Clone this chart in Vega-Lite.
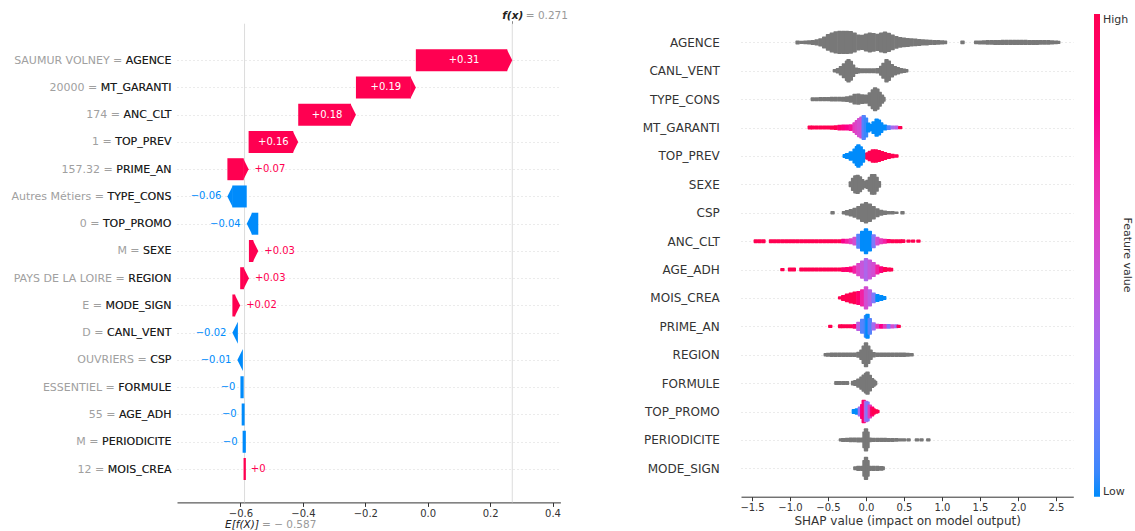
{
  "$schema": "https://vega.github.io/schema/vega-lite/v6.json",
  "padding": {"left": 10, "top": 10, "right": 0, "bottom": 0},
  "config": {
    "font": "DejaVu Sans",
    "view": {"stroke": null},
    "axis": {"labelFont": "DejaVu Sans", "titleFont": "DejaVu Sans"},
    "legend": {"labelFont": "DejaVu Sans", "titleFont": "DejaVu Sans"}
  },
  "datasets": {
    "wf": [
      {"f": "AGENCE", "label": "SAUMUR VOLNEY = AGENCE", "start": -0.038, "end": 0.271, "t": "+0.31"},
      {"f": "MT_GARANTI", "label": "20000 = MT_GARANTI", "start": -0.230, "end": -0.038, "t": "+0.19"},
      {"f": "ANC_CLT", "label": "174 = ANC_CLT", "start": -0.415, "end": -0.230, "t": "+0.18"},
      {"f": "TOP_PREV", "label": "1 = TOP_PREV", "start": -0.574, "end": -0.415, "t": "+0.16"},
      {"f": "PRIME_AN", "label": "157.32 = PRIME_AN", "start": -0.642, "end": -0.574, "t": "+0.07"},
      {"f": "TYPE_CONS", "label": "Autres Métiers = TYPE_CONS", "start": -0.580, "end": -0.642, "t": "−0.06"},
      {"f": "TOP_PROMO", "label": "0 = TOP_PROMO", "start": -0.543, "end": -0.580, "t": "−0.04"},
      {"f": "SEXE", "label": "M = SEXE", "start": -0.573, "end": -0.543, "t": "+0.03"},
      {"f": "REGION", "label": "PAYS DE LA LOIRE = REGION", "start": -0.601, "end": -0.573, "t": "+0.03"},
      {"f": "MODE_SIGN", "label": "E = MODE_SIGN", "start": -0.626, "end": -0.601, "t": "+0.02"},
      {"f": "CANL_VENT", "label": "D = CANL_VENT", "start": -0.610, "end": -0.626, "t": "−0.02"},
      {"f": "CSP", "label": "OUVRIERS = CSP", "start": -0.597, "end": -0.610, "t": "−0.01"},
      {"f": "FORMULE", "label": "ESSENTIEL = FORMULE", "start": -0.593, "end": -0.597, "t": "−0"},
      {"f": "AGE_ADH", "label": "55 = AGE_ADH", "start": -0.590, "end": -0.593, "t": "−0"},
      {"f": "PERIODICITE", "label": "M = PERIODICITE", "start": -0.586, "end": -0.590, "t": "−0"},
      {"f": "MOIS_CREA", "label": "12 = MOIS_CREA", "start": -0.587, "end": -0.586, "t": "+0"}
    ],
    "ann": [{"k": "E", "v": -0.587}, {"k": "f", "v": 0.271}],
    "swarm": [
      {"f":"AGENCE","v":-0.90,"d":12},{"f":"AGENCE","v":-0.85,"d":10},{"f":"AGENCE","v":-0.80,"d":11},{"f":"AGENCE","v":-0.75,"d":13},{"f":"AGENCE","v":-0.70,"d":15},{"f":"AGENCE","v":-0.65,"d":19},{"f":"AGENCE","v":-0.60,"d":25},{"f":"AGENCE","v":-0.55,"d":36},{"f":"AGENCE","v":-0.50,"d":50},{"f":"AGENCE","v":-0.45,"d":60},{"f":"AGENCE","v":-0.40,"d":67},{"f":"AGENCE","v":-0.35,"d":70},{"f":"AGENCE","v":-0.30,"d":70},{"f":"AGENCE","v":-0.25,"d":70},{"f":"AGENCE","v":-0.20,"d":68},{"f":"AGENCE","v":-0.15,"d":60},{"f":"AGENCE","v":-0.10,"d":48},{"f":"AGENCE","v":-0.05,"d":46},{"f":"AGENCE","v":0.00,"d":54},{"f":"AGENCE","v":0.05,"d":60},{"f":"AGENCE","v":0.10,"d":56},{"f":"AGENCE","v":0.15,"d":52},{"f":"AGENCE","v":0.20,"d":60},{"f":"AGENCE","v":0.25,"d":65},{"f":"AGENCE","v":0.30,"d":58},{"f":"AGENCE","v":0.35,"d":47},{"f":"AGENCE","v":0.40,"d":38},{"f":"AGENCE","v":0.45,"d":32},{"f":"AGENCE","v":0.50,"d":29},{"f":"AGENCE","v":0.55,"d":27},{"f":"AGENCE","v":0.60,"d":25},{"f":"AGENCE","v":0.65,"d":23},{"f":"AGENCE","v":0.70,"d":21},{"f":"AGENCE","v":0.75,"d":19},{"f":"AGENCE","v":0.80,"d":18},{"f":"AGENCE","v":0.85,"d":16},{"f":"AGENCE","v":0.90,"d":15},{"f":"AGENCE","v":0.95,"d":14},{"f":"AGENCE","v":1.00,"d":13},{"f":"AGENCE","v":1.04,"d":11},{"f":"AGENCE","v":1.27,"d":11},{"f":"AGENCE","v":1.45,"d":11},{"f":"AGENCE","v":1.50,"d":12},{"f":"AGENCE","v":1.55,"d":13},{"f":"AGENCE","v":1.60,"d":14},{"f":"AGENCE","v":1.65,"d":14},{"f":"AGENCE","v":1.70,"d":15},{"f":"AGENCE","v":1.75,"d":15},{"f":"AGENCE","v":1.80,"d":16},{"f":"AGENCE","v":1.85,"d":16},{"f":"AGENCE","v":1.90,"d":16},{"f":"AGENCE","v":1.95,"d":16},{"f":"AGENCE","v":2.00,"d":16},{"f":"AGENCE","v":2.05,"d":16},{"f":"AGENCE","v":2.10,"d":16},{"f":"AGENCE","v":2.15,"d":15},{"f":"AGENCE","v":2.20,"d":15},{"f":"AGENCE","v":2.25,"d":15},{"f":"AGENCE","v":2.30,"d":14},{"f":"AGENCE","v":2.35,"d":14},{"f":"AGENCE","v":2.40,"d":14},{"f":"AGENCE","v":2.45,"d":13},{"f":"AGENCE","v":2.50,"d":11},{"f":"AGENCE","v":2.53,"d":10},
      {"f":"CANL_VENT","v":-0.41,"d":10},{"f":"CANL_VENT","v":-0.37,"d":16},{"f":"CANL_VENT","v":-0.33,"d":28},{"f":"CANL_VENT","v":-0.29,"d":45},{"f":"CANL_VENT","v":-0.25,"d":62},{"f":"CANL_VENT","v":-0.23,"d":70},{"f":"CANL_VENT","v":-0.20,"d":60},{"f":"CANL_VENT","v":-0.17,"d":38},{"f":"CANL_VENT","v":-0.13,"d":20},{"f":"CANL_VENT","v":-0.10,"d":16},{"f":"CANL_VENT","v":-0.05,"d":15},{"f":"CANL_VENT","v":0.00,"d":15},{"f":"CANL_VENT","v":0.05,"d":15},{"f":"CANL_VENT","v":0.10,"d":15},{"f":"CANL_VENT","v":0.15,"d":17},{"f":"CANL_VENT","v":0.20,"d":30},{"f":"CANL_VENT","v":0.23,"d":48},{"f":"CANL_VENT","v":0.27,"d":70},{"f":"CANL_VENT","v":0.30,"d":62},{"f":"CANL_VENT","v":0.34,"d":40},{"f":"CANL_VENT","v":0.38,"d":28},{"f":"CANL_VENT","v":0.42,"d":22},{"f":"CANL_VENT","v":0.46,"d":16},{"f":"CANL_VENT","v":0.50,"d":13},{"f":"CANL_VENT","v":0.53,"d":10},
      {"f":"TYPE_CONS","v":-0.70,"d":12},{"f":"TYPE_CONS","v":-0.65,"d":12},{"f":"TYPE_CONS","v":-0.60,"d":13},{"f":"TYPE_CONS","v":-0.55,"d":13},{"f":"TYPE_CONS","v":-0.50,"d":13},{"f":"TYPE_CONS","v":-0.45,"d":14},{"f":"TYPE_CONS","v":-0.40,"d":14},{"f":"TYPE_CONS","v":-0.35,"d":14},{"f":"TYPE_CONS","v":-0.30,"d":15},{"f":"TYPE_CONS","v":-0.25,"d":17},{"f":"TYPE_CONS","v":-0.20,"d":22},{"f":"TYPE_CONS","v":-0.15,"d":32},{"f":"TYPE_CONS","v":-0.10,"d":34},{"f":"TYPE_CONS","v":-0.05,"d":29},{"f":"TYPE_CONS","v":0.00,"d":28},{"f":"TYPE_CONS","v":0.05,"d":42},{"f":"TYPE_CONS","v":0.09,"d":60},{"f":"TYPE_CONS","v":0.12,"d":72},{"f":"TYPE_CONS","v":0.15,"d":64},{"f":"TYPE_CONS","v":0.18,"d":45},{"f":"TYPE_CONS","v":0.21,"d":28},{"f":"TYPE_CONS","v":0.23,"d":15},
      {"f":"MT_GARANTI","v":-0.74,"d":12,"c":1},{"f":"MT_GARANTI","v":-0.70,"d":12,"c":1},{"f":"MT_GARANTI","v":-0.65,"d":12,"c":1},{"f":"MT_GARANTI","v":-0.60,"d":12,"c":1},{"f":"MT_GARANTI","v":-0.55,"d":12,"c":1},{"f":"MT_GARANTI","v":-0.50,"d":12,"c":1},{"f":"MT_GARANTI","v":-0.45,"d":13,"c":1},{"f":"MT_GARANTI","v":-0.40,"d":14,"c":1},{"f":"MT_GARANTI","v":-0.35,"d":17,"c":0.9},{"f":"MT_GARANTI","v":-0.30,"d":18,"c":0.85},{"f":"MT_GARANTI","v":-0.25,"d":18,"c":0.8},{"f":"MT_GARANTI","v":-0.20,"d":20,"c":0.75},{"f":"MT_GARANTI","v":-0.15,"d":32,"c":0.6},{"f":"MT_GARANTI","v":-0.12,"d":45,"c":0.55},{"f":"MT_GARANTI","v":-0.09,"d":58,"c":0.5},{"f":"MT_GARANTI","v":-0.06,"d":66,"c":0.5},{"f":"MT_GARANTI","v":-0.03,"d":75,"c":0.1},{"f":"MT_GARANTI","v":0.00,"d":60,"c":0.05},{"f":"MT_GARANTI","v":0.03,"d":30,"c":0},{"f":"MT_GARANTI","v":0.06,"d":22,"c":0},{"f":"MT_GARANTI","v":0.10,"d":38,"c":0},{"f":"MT_GARANTI","v":0.14,"d":55,"c":0},{"f":"MT_GARANTI","v":0.17,"d":48,"c":0},{"f":"MT_GARANTI","v":0.20,"d":32,"c":0},{"f":"MT_GARANTI","v":0.25,"d":18,"c":0},{"f":"MT_GARANTI","v":0.30,"d":14,"c":0.1},{"f":"MT_GARANTI","v":0.35,"d":12,"c":0.3},{"f":"MT_GARANTI","v":0.40,"d":12,"c":0.4},{"f":"MT_GARANTI","v":0.45,"d":10,"c":1},
      {"f":"TOP_PREV","v":-0.28,"d":12,"c":0},{"f":"TOP_PREV","v":-0.25,"d":18,"c":0},{"f":"TOP_PREV","v":-0.20,"d":28,"c":0},{"f":"TOP_PREV","v":-0.15,"d":45,"c":0},{"f":"TOP_PREV","v":-0.12,"d":60,"c":0},{"f":"TOP_PREV","v":-0.10,"d":70,"c":0},{"f":"TOP_PREV","v":-0.07,"d":58,"c":0},{"f":"TOP_PREV","v":-0.04,"d":40,"c":0},{"f":"TOP_PREV","v":-0.01,"d":18,"c":0},{"f":"TOP_PREV","v":0.02,"d":22,"c":1},{"f":"TOP_PREV","v":0.05,"d":32,"c":1},{"f":"TOP_PREV","v":0.09,"d":40,"c":1},{"f":"TOP_PREV","v":0.13,"d":40,"c":1},{"f":"TOP_PREV","v":0.17,"d":36,"c":1},{"f":"TOP_PREV","v":0.21,"d":30,"c":1},{"f":"TOP_PREV","v":0.25,"d":24,"c":1},{"f":"TOP_PREV","v":0.30,"d":18,"c":1},{"f":"TOP_PREV","v":0.35,"d":14,"c":1},{"f":"TOP_PREV","v":0.40,"d":11,"c":1},
      {"f":"SEXE","v":-0.20,"d":18},{"f":"SEXE","v":-0.17,"d":40},{"f":"SEXE","v":-0.14,"d":55},{"f":"SEXE","v":-0.11,"d":58},{"f":"SEXE","v":-0.08,"d":48},{"f":"SEXE","v":-0.05,"d":32},{"f":"SEXE","v":-0.02,"d":22},{"f":"SEXE","v":0.00,"d":20},{"f":"SEXE","v":0.02,"d":28},{"f":"SEXE","v":0.05,"d":45},{"f":"SEXE","v":0.08,"d":62},{"f":"SEXE","v":0.11,"d":62},{"f":"SEXE","v":0.14,"d":45},{"f":"SEXE","v":0.17,"d":20},
      {"f":"CSP","v":-0.44,"d":10},{"f":"CSP","v":-0.29,"d":10},{"f":"CSP","v":-0.25,"d":16},{"f":"CSP","v":-0.20,"d":22},{"f":"CSP","v":-0.15,"d":30},{"f":"CSP","v":-0.10,"d":40},{"f":"CSP","v":-0.05,"d":55},{"f":"CSP","v":0.00,"d":64},{"f":"CSP","v":0.05,"d":56},{"f":"CSP","v":0.10,"d":40},{"f":"CSP","v":0.15,"d":27},{"f":"CSP","v":0.20,"d":18},{"f":"CSP","v":0.25,"d":13},{"f":"CSP","v":0.30,"d":11},{"f":"CSP","v":0.35,"d":10},{"f":"CSP","v":0.40,"d":8},{"f":"CSP","v":0.48,"d":10},
      {"f":"ANC_CLT","v":-1.45,"d":12,"c":1},{"f":"ANC_CLT","v":-1.40,"d":12,"c":1},{"f":"ANC_CLT","v":-1.35,"d":12,"c":1},{"f":"ANC_CLT","v":-1.25,"d":12,"c":1},{"f":"ANC_CLT","v":-1.20,"d":12,"c":1},{"f":"ANC_CLT","v":-1.15,"d":12,"c":1},{"f":"ANC_CLT","v":-1.10,"d":12,"c":1},{"f":"ANC_CLT","v":-1.05,"d":12,"c":1},{"f":"ANC_CLT","v":-1.00,"d":12,"c":1},{"f":"ANC_CLT","v":-0.95,"d":12,"c":1},{"f":"ANC_CLT","v":-0.90,"d":12,"c":1},{"f":"ANC_CLT","v":-0.85,"d":12,"c":1},{"f":"ANC_CLT","v":-0.80,"d":12,"c":1},{"f":"ANC_CLT","v":-0.75,"d":12,"c":1},{"f":"ANC_CLT","v":-0.70,"d":12,"c":1},{"f":"ANC_CLT","v":-0.65,"d":12,"c":1},{"f":"ANC_CLT","v":-0.60,"d":12,"c":1},{"f":"ANC_CLT","v":-0.55,"d":12,"c":1},{"f":"ANC_CLT","v":-0.50,"d":12,"c":1},{"f":"ANC_CLT","v":-0.45,"d":12,"c":1},{"f":"ANC_CLT","v":-0.40,"d":12,"c":1},{"f":"ANC_CLT","v":-0.35,"d":12,"c":1},{"f":"ANC_CLT","v":-0.30,"d":14,"c":0.8},{"f":"ANC_CLT","v":-0.25,"d":15,"c":0.7},{"f":"ANC_CLT","v":-0.20,"d":18,"c":0.6},{"f":"ANC_CLT","v":-0.15,"d":26,"c":0.5},{"f":"ANC_CLT","v":-0.10,"d":45,"c":0.1},{"f":"ANC_CLT","v":-0.05,"d":62,"c":0},{"f":"ANC_CLT","v":0.00,"d":78,"c":0},{"f":"ANC_CLT","v":0.05,"d":62,"c":0},{"f":"ANC_CLT","v":0.10,"d":42,"c":0.2},{"f":"ANC_CLT","v":0.15,"d":26,"c":0.5},{"f":"ANC_CLT","v":0.20,"d":18,"c":0.6},{"f":"ANC_CLT","v":0.25,"d":15,"c":0.7},{"f":"ANC_CLT","v":0.30,"d":13,"c":0.9},{"f":"ANC_CLT","v":0.35,"d":12,"c":1},{"f":"ANC_CLT","v":0.40,"d":12,"c":1},{"f":"ANC_CLT","v":0.45,"d":12,"c":1},{"f":"ANC_CLT","v":0.49,"d":11,"c":1},{"f":"ANC_CLT","v":0.56,"d":10,"c":1},{"f":"ANC_CLT","v":0.62,"d":10,"c":1},{"f":"ANC_CLT","v":0.69,"d":10,"c":1},
      {"f":"AGE_ADH","v":-1.10,"d":10,"c":1},{"f":"AGE_ADH","v":-1.00,"d":12,"c":1},{"f":"AGE_ADH","v":-0.95,"d":12,"c":1},{"f":"AGE_ADH","v":-0.85,"d":12,"c":1},{"f":"AGE_ADH","v":-0.80,"d":12,"c":1},{"f":"AGE_ADH","v":-0.75,"d":12,"c":1},{"f":"AGE_ADH","v":-0.70,"d":12,"c":1},{"f":"AGE_ADH","v":-0.65,"d":12,"c":1},{"f":"AGE_ADH","v":-0.60,"d":12,"c":1},{"f":"AGE_ADH","v":-0.55,"d":12,"c":1},{"f":"AGE_ADH","v":-0.50,"d":12,"c":1},{"f":"AGE_ADH","v":-0.45,"d":12,"c":1},{"f":"AGE_ADH","v":-0.40,"d":12,"c":1},{"f":"AGE_ADH","v":-0.35,"d":12,"c":1},{"f":"AGE_ADH","v":-0.30,"d":14,"c":0.9},{"f":"AGE_ADH","v":-0.25,"d":15,"c":0.9},{"f":"AGE_ADH","v":-0.20,"d":18,"c":0.85},{"f":"AGE_ADH","v":-0.15,"d":25,"c":0.7},{"f":"AGE_ADH","v":-0.10,"d":40,"c":0.55},{"f":"AGE_ADH","v":-0.05,"d":55,"c":0.45},{"f":"AGE_ADH","v":0.00,"d":70,"c":0.35},{"f":"AGE_ADH","v":0.05,"d":60,"c":0.45},{"f":"AGE_ADH","v":0.10,"d":45,"c":0.5},{"f":"AGE_ADH","v":0.15,"d":30,"c":0.7},{"f":"AGE_ADH","v":0.20,"d":20,"c":0.85},{"f":"AGE_ADH","v":0.25,"d":15,"c":1},{"f":"AGE_ADH","v":0.30,"d":12,"c":1},{"f":"AGE_ADH","v":0.33,"d":11,"c":1},
      {"f":"MOIS_CREA","v":-0.34,"d":10,"c":1},{"f":"MOIS_CREA","v":-0.30,"d":18,"c":1},{"f":"MOIS_CREA","v":-0.25,"d":26,"c":1},{"f":"MOIS_CREA","v":-0.20,"d":33,"c":1},{"f":"MOIS_CREA","v":-0.15,"d":38,"c":1},{"f":"MOIS_CREA","v":-0.10,"d":42,"c":0.9},{"f":"MOIS_CREA","v":-0.05,"d":52,"c":0.7},{"f":"MOIS_CREA","v":0.00,"d":70,"c":0.5},{"f":"MOIS_CREA","v":0.05,"d":52,"c":0.4},{"f":"MOIS_CREA","v":0.10,"d":32,"c":0.2},{"f":"MOIS_CREA","v":0.15,"d":24,"c":0},{"f":"MOIS_CREA","v":0.20,"d":18,"c":0},{"f":"MOIS_CREA","v":0.24,"d":12,"c":0},
      {"f":"PRIME_AN","v":-0.47,"d":10,"c":1},{"f":"PRIME_AN","v":-0.34,"d":12,"c":1},{"f":"PRIME_AN","v":-0.30,"d":12,"c":1},{"f":"PRIME_AN","v":-0.25,"d":12,"c":1},{"f":"PRIME_AN","v":-0.20,"d":12,"c":1},{"f":"PRIME_AN","v":-0.15,"d":14,"c":0.9},{"f":"PRIME_AN","v":-0.10,"d":28,"c":0.4},{"f":"PRIME_AN","v":-0.05,"d":45,"c":0.1},{"f":"PRIME_AN","v":0.00,"d":68,"c":0.05},{"f":"PRIME_AN","v":0.02,"d":75,"c":0},{"f":"PRIME_AN","v":0.05,"d":50,"c":0.1},{"f":"PRIME_AN","v":0.10,"d":25,"c":0.3},{"f":"PRIME_AN","v":0.15,"d":15,"c":0.6},{"f":"PRIME_AN","v":0.20,"d":14,"c":0.8},{"f":"PRIME_AN","v":0.25,"d":14,"c":0.6},{"f":"PRIME_AN","v":0.30,"d":14,"c":0.2},{"f":"PRIME_AN","v":0.35,"d":13,"c":0.5},{"f":"PRIME_AN","v":0.40,"d":12,"c":0.3},{"f":"PRIME_AN","v":0.43,"d":10,"c":1},
      {"f":"REGION","v":-0.53,"d":10},{"f":"REGION","v":-0.50,"d":12},{"f":"REGION","v":-0.45,"d":13},{"f":"REGION","v":-0.40,"d":13},{"f":"REGION","v":-0.35,"d":13},{"f":"REGION","v":-0.30,"d":13},{"f":"REGION","v":-0.25,"d":13},{"f":"REGION","v":-0.20,"d":14},{"f":"REGION","v":-0.15,"d":14},{"f":"REGION","v":-0.10,"d":18},{"f":"REGION","v":-0.06,"d":32},{"f":"REGION","v":-0.03,"d":55},{"f":"REGION","v":0.00,"d":75},{"f":"REGION","v":0.03,"d":55},{"f":"REGION","v":0.06,"d":32},{"f":"REGION","v":0.10,"d":16},{"f":"REGION","v":0.15,"d":14},{"f":"REGION","v":0.20,"d":14},{"f":"REGION","v":0.25,"d":13},{"f":"REGION","v":0.30,"d":13},{"f":"REGION","v":0.35,"d":13},{"f":"REGION","v":0.40,"d":13},{"f":"REGION","v":0.45,"d":13},{"f":"REGION","v":0.50,"d":13},{"f":"REGION","v":0.55,"d":12},{"f":"REGION","v":0.60,"d":10},
      {"f":"FORMULE","v":-0.39,"d":12},{"f":"FORMULE","v":-0.35,"d":12},{"f":"FORMULE","v":-0.30,"d":12},{"f":"FORMULE","v":-0.25,"d":12},{"f":"FORMULE","v":-0.17,"d":14},{"f":"FORMULE","v":-0.14,"d":18},{"f":"FORMULE","v":-0.10,"d":28},{"f":"FORMULE","v":-0.06,"d":40},{"f":"FORMULE","v":-0.03,"d":52},{"f":"FORMULE","v":0.00,"d":62},{"f":"FORMULE","v":0.02,"d":70},{"f":"FORMULE","v":0.05,"d":50},{"f":"FORMULE","v":0.08,"d":30},{"f":"FORMULE","v":0.10,"d":22},{"f":"FORMULE","v":0.12,"d":14},
      {"f":"TOP_PROMO","v":-0.16,"d":15,"c":0},{"f":"TOP_PROMO","v":-0.12,"d":20,"c":0},{"f":"TOP_PROMO","v":-0.08,"d":30,"c":0.3},{"f":"TOP_PROMO","v":-0.05,"d":45,"c":0.8},{"f":"TOP_PROMO","v":-0.03,"d":70,"c":0.9},{"f":"TOP_PROMO","v":0.00,"d":65,"c":0.4},{"f":"TOP_PROMO","v":0.02,"d":60,"c":0.2},{"f":"TOP_PROMO","v":0.05,"d":42,"c":0.6},{"f":"TOP_PROMO","v":0.08,"d":30,"c":0.9},{"f":"TOP_PROMO","v":0.10,"d":20,"c":1},{"f":"TOP_PROMO","v":0.13,"d":14,"c":1},{"f":"TOP_PROMO","v":0.15,"d":11,"c":1},
      {"f":"PERIODICITE","v":-0.33,"d":10},{"f":"PERIODICITE","v":-0.30,"d":12},{"f":"PERIODICITE","v":-0.25,"d":13},{"f":"PERIODICITE","v":-0.20,"d":14},{"f":"PERIODICITE","v":-0.15,"d":14},{"f":"PERIODICITE","v":-0.10,"d":15},{"f":"PERIODICITE","v":-0.05,"d":15},{"f":"PERIODICITE","v":-0.02,"d":50},{"f":"PERIODICITE","v":0.00,"d":70},{"f":"PERIODICITE","v":0.02,"d":50},{"f":"PERIODICITE","v":0.05,"d":14},{"f":"PERIODICITE","v":0.10,"d":13},{"f":"PERIODICITE","v":0.15,"d":13},{"f":"PERIODICITE","v":0.20,"d":13},{"f":"PERIODICITE","v":0.25,"d":13},{"f":"PERIODICITE","v":0.30,"d":12},{"f":"PERIODICITE","v":0.35,"d":12},{"f":"PERIODICITE","v":0.40,"d":11},{"f":"PERIODICITE","v":0.45,"d":10},{"f":"PERIODICITE","v":0.50,"d":10},{"f":"PERIODICITE","v":0.56,"d":10},{"f":"PERIODICITE","v":0.67,"d":10},{"f":"PERIODICITE","v":0.73,"d":10},{"f":"PERIODICITE","v":0.82,"d":10},
      {"f":"MODE_SIGN","v":-0.14,"d":12},{"f":"MODE_SIGN","v":-0.10,"d":16},{"f":"MODE_SIGN","v":-0.05,"d":16},{"f":"MODE_SIGN","v":-0.02,"d":50},{"f":"MODE_SIGN","v":0.00,"d":70},{"f":"MODE_SIGN","v":0.02,"d":50},{"f":"MODE_SIGN","v":0.05,"d":16},{"f":"MODE_SIGN","v":0.10,"d":16},{"f":"MODE_SIGN","v":0.15,"d":16},{"f":"MODE_SIGN","v":0.20,"d":14},{"f":"MODE_SIGN","v":0.22,"d":12}
    ]
  },
  "spacing": 74,
  "hconcat": [
    {
      "width": 383.4,
      "height": 488.4,
      "layer": [
        {
          "data": {"name": "ann"},
          "mark": {"type": "rule", "color": "#dcdcdc", "strokeWidth": 1, "yOffset": -36.5, "y2Offset": 33.4},
          "encoding": {
            "x": {"field": "v", "type": "quantitative", "axis": null, "scale": {"domain": [-0.8035, 0.4253], "nice": false, "zero": false}},
            "y": {"datum": "SAUMUR VOLNEY = AGENCE", "type": "nominal", "axis": null},
            "y2": {"datum": "12 = MOIS_CREA"}
          }
        },
        {
          "data": {"name": "wf"},
          "transform": [{"filter": "datum.end > datum.start && datum.end - datum.start > 0.018"}],
          "mark": {"type": "bar", "size": 22, "x2Offset": -5, "color": "#ff0051"},
          "encoding": {
            "x": {"field": "start", "type": "quantitative", "scale": {"domain": [-0.8035, 0.4253], "nice": false, "zero": false},
              "axis": {"orient": "bottom", "values": [-0.6, -0.4, -0.2, 0, 0.2, 0.4], "format": ".1f", "title": null, "grid": false, "domain": true, "domainColor": "#333333", "ticks": true, "tickColor": "#333333", "tickSize": 4, "labelFontSize": 10, "labelColor": "#333333", "labelPadding": 2, "labelFlush": false}},
            "x2": {"field": "end"},
            "y": {"field": "label", "type": "nominal",
              "scale": {"type": "point", "padding": 0, "range": [46.2, 455.0], "domain": ["SAUMUR VOLNEY = AGENCE", "20000 = MT_GARANTI", "174 = ANC_CLT", "1 = TOP_PREV", "157.32 = PRIME_AN", "Autres Métiers = TYPE_CONS", "0 = TOP_PROMO", "M = SEXE", "PAYS DE LA LOIRE = REGION", "E = MODE_SIGN", "D = CANL_VENT", "OUVRIERS = CSP", "ESSENTIEL = FORMULE", "55 = AGE_ADH", "M = PERIODICITE", "12 = MOIS_CREA"]},
              "axis": {"orient": "left", "title": null, "ticks": false, "domain": false, "labelPadding": 6, "labelFontSize": 11, "labelColor": "#a0a0a0", "labelLimit": 0, "grid": true, "gridDash": [1, 3], "gridColor": "#cccccc", "gridWidth": 0.8}}
          }
        },
        {
          "data": {"name": "wf"},
          "transform": [{"filter": "datum.start > datum.end && datum.start - datum.end > 0.018"}],
          "mark": {"type": "bar", "size": 22, "x2Offset": 5, "color": "#008bfb"},
          "encoding": {
            "x": {"field": "start", "type": "quantitative",
              "axis": {"orient": "top", "offset": -9.7, "values": [0.271], "labelExpr": "'f(x)'", "title": null, "grid": false, "domain": false, "ticks": true, "tickSize": 3, "tickColor": "#888888", "labelFontSize": 10.5, "labelFontStyle": "italic", "labelFontWeight": "bold", "labelColor": "#222222", "labelPadding": 0, "labelAlign": "center", "labelFlush": false}},
            "x2": {"field": "end"},
            "y": {"field": "label", "type": "nominal",
              "axis": {"orient": "left", "title": null, "ticks": false, "domain": false, "labelPadding": 6, "labelFontSize": 11, "labelColor": "#1a1a1a", "labelLimit": 0, "grid": false, "labelExpr": "split(datum.label, ' = ')[1]"}}
          }
        },
        {
          "data": {"name": "wf"},
          "transform": [{"filter": "abs(datum.end - datum.start) >= 0.008"}],
          "mark": {"type": "point", "filled": true, "size": 484, "opacity": 1, "strokeWidth": 0},
          "encoding": {
            "x": {"field": "end", "type": "quantitative",
              "axis": {"orient": "top", "offset": -9.7, "values": [0.271], "labelExpr": "'= 0.271'", "title": null, "grid": false, "domain": false, "ticks": true, "tickSize": 3, "tickOpacity": 0, "labelFontSize": 10.5, "labelColor": "#999999", "labelPadding": 0, "labelAlign": "left", "labelOffset": 13, "labelFlush": false}},
            "y": {"field": "label", "type": "nominal", "axis": null},
            "shape": {"condition": {"test": "datum.end > datum.start", "value": "M 0 0 L -0.5 -1 L -0.5 1 Z"}, "value": "M 0 0 L 0.5 -1 L 0.5 1 Z"},
            "color": {"condition": {"test": "datum.end > datum.start", "value": "#ff0051"}, "value": "#008bfb"}
          }
        },
        {
          "data": {"name": "wf"},
          "transform": [{"filter": "abs(datum.end - datum.start) < 0.008"}],
          "mark": {"type": "bar", "size": 20, "strokeWidth": 2},
          "encoding": {
            "x": {"field": "start", "type": "quantitative",
              "axis": {"orient": "bottom", "values": [-0.587], "labelExpr": "'E[f(X)]'", "title": null, "grid": false, "domain": false, "ticks": true, "tickSize": 4, "tickOpacity": 0, "labelFontSize": 10.5, "labelFontStyle": "italic", "labelColor": "#222222", "labelPadding": 13.5, "labelAlign": "center", "labelOffset": -3, "labelFlush": false}},
            "x2": {"field": "end"},
            "y": {"field": "label", "type": "nominal", "axis": null},
            "color": {"condition": {"test": "datum.end > datum.start", "value": "#ff0051"}, "value": "#008bfb"},
            "stroke": {"condition": {"test": "datum.end > datum.start", "value": "#ff0051"}, "value": "#008bfb"}
          }
        },
        {
          "data": {"name": "wf"},
          "transform": [{"filter": "abs(datum.end - datum.start) > 0.1"}, {"calculate": "(datum.start + datum.end) / 2", "as": "mid"}],
          "mark": {"type": "text", "color": "#ffffff", "fontSize": 10, "align": "center", "baseline": "middle"},
          "encoding": {
            "x": {"field": "mid", "type": "quantitative",
              "axis": {"orient": "bottom", "values": [-0.587], "labelExpr": "'= − 0.587'", "title": null, "grid": false, "domain": false, "ticks": true, "tickSize": 4, "tickOpacity": 0, "labelFontSize": 10.5, "labelColor": "#999999", "labelPadding": 13.5, "labelAlign": "left", "labelOffset": 17, "labelFlush": false}},
            "y": {"field": "label", "type": "nominal", "axis": null},
            "text": {"field": "t"}
          }
        },
        {
          "data": {"name": "wf"},
          "transform": [{"filter": "datum.end > datum.start && abs(datum.end - datum.start) <= 0.1"}],
          "mark": {"type": "text", "color": "#ff0051", "fontSize": 10, "align": "left", "baseline": "middle", "dx": 6},
          "encoding": {
            "x": {"field": "end", "type": "quantitative", "axis": null},
            "y": {"field": "label", "type": "nominal", "axis": null},
            "text": {"field": "t"}
          }
        },
        {
          "data": {"name": "wf"},
          "transform": [{"filter": "datum.end < datum.start && abs(datum.end - datum.start) <= 0.1"}],
          "mark": {"type": "text", "color": "#008bfb", "fontSize": 10, "align": "right", "baseline": "middle", "dx": -6},
          "encoding": {
            "x": {"field": "end", "type": "quantitative", "axis": null},
            "y": {"field": "label", "type": "nominal", "axis": null},
            "text": {"field": "t"}
          }
        }
      ],
      "resolve": {"axis": {"x": "independent", "y": "independent"}}
    },
    {
      "width": 332.3,
      "height": 482.7,
      "layer": [
        {
          "mark": {"type": "rule", "color": "#999999", "strokeWidth": 1},
          "encoding": {"x": {"datum": 0, "type": "quantitative"}}
        },
        {
          "data": {"name": "swarm"},
          "transform": [{"filter": "!isValid(datum.c)"}],
          "mark": {"type": "tick", "orient": "vertical", "thickness": 4.4, "color": "#787878", "opacity": 1, "cornerRadius": 1},
          "encoding": {
            "x": {"field": "v", "type": "quantitative", "scale": {"domain": [-1.645, 2.728], "nice": false, "zero": false},
              "axis": {"values": [-1.5, -1, -0.5, 0, 0.5, 1, 1.5, 2, 2.5], "format": ".1f", "title": "SHAP value (impact on model output)", "titleFontSize": 12, "titleFontWeight": "normal", "titleColor": "#333333", "titlePadding": 3, "labelFontSize": 10, "labelColor": "#333333", "tickSize": 4, "tickColor": "#333333", "domainColor": "#333333", "grid": false, "labelFlush": false, "labelPadding": 2}},
            "y": {"field": "f", "type": "nominal",
              "scale": {"type": "point", "padding": 1.026, "domain": ["AGENCE", "CANL_VENT", "TYPE_CONS", "MT_GARANTI", "TOP_PREV", "SEXE", "CSP", "ANC_CLT", "AGE_ADH", "MOIS_CREA", "PRIME_AN", "REGION", "FORMULE", "TOP_PROMO", "PERIODICITE", "MODE_SIGN"]},
              "axis": {"title": null, "ticks": false, "domain": false, "labelPadding": 21.7, "labelFontSize": 12, "labelColor": "#333333", "labelLimit": 0, "grid": true, "gridDash": [1, 3], "gridColor": "#cccccc", "gridWidth": 0.8}},
            "size": {"field": "d", "type": "quantitative", "scale": {"domain": [0, 75], "range": [0, 25]}, "legend": null}
          }
        },
        {
          "data": {"name": "swarm"},
          "transform": [{"filter": "isValid(datum.c)"}],
          "mark": {"type": "tick", "orient": "vertical", "thickness": 4.4, "opacity": 1, "cornerRadius": 1},
          "encoding": {
            "x": {"field": "v", "type": "quantitative"},
            "y": {"field": "f", "type": "nominal"},
            "size": {"field": "d", "type": "quantitative", "legend": null},
            "color": {"field": "c", "type": "quantitative",
              "scale": {"domain": [0, 1], "range": ["#008bfb", "#ff0051"], "interpolate": "hcl"},
              "legend": {"title": "Feature value", "orient": "right", "direction": "vertical", "gradientLength": 482.7, "gradientThickness": 6, "gradientStrokeWidth": 0, "values": [0, 1], "labelExpr": "datum.value >= 1 ? 'High' : 'Low'", "labelFontSize": 11, "labelColor": "#333333", "labelOffset": 3, "labelOverlap": false, "labelBaseline": "middle", "titleOrient": "right", "titleAnchor": "middle", "titleFontSize": 11, "titleFontWeight": "normal", "titleColor": "#333333", "titlePadding": -6, "offset": 20,
                "encode": {"title": {"update": {"angle": {"value": 270}, "baseline": {"value": "bottom"}}}}}}
          }
        }
      ]
    }
  ]
}
